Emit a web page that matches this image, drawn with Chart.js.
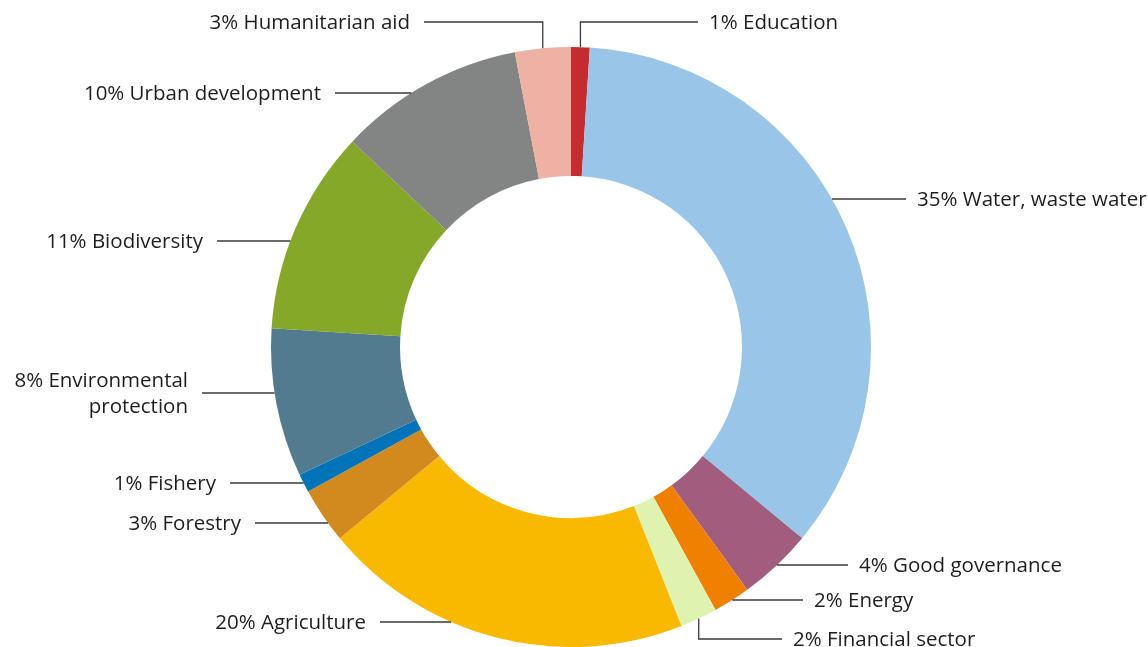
<!DOCTYPE html>
<html>
<head>
<meta charset="utf-8">
<script src="https://cdn.jsdelivr.net/npm/chart.js@4/dist/chart.umd.min.js"></script>
<style>
  html, body { margin: 0; padding: 0; background: #fff; }
  #wrap { width: 1148px; height: 647px; position: relative; }
</style>
</head>
<body>
<div id="wrap"><canvas id="sectors"></canvas></div>
<script>
// shares in percent, clockwise from 12 o'clock
let labels = [
    'Education',
    'Water, waste water',
    'Good governance',
    'Energy',
    'Financial sector',
    'Agriculture',
    'Forestry',
    'Fishery',
    ['Environmental', 'protection'],
    'Biodiversity',
    'Urban development',
    'Humanitarian aid'
];
let values = [1, 35, 4, 2, 2, 20, 3, 1, 8, 11, 10, 3];
let colors = [
    '#c52c2f', '#99c6e8', '#a15d7e', '#f08000', '#dff3b0', '#f9b900',
    '#d2891e', '#0073b9', '#537b8f', '#85a828', '#838584', '#eeb2a4'
];

// label placement: y of leader line, x where line ends, elbow = vertical first
let labelLayout = [
    { y: 22, endX: 698, elbow: true },
    { y: 199, endX: 906 },
    { y: 565, endX: 848 },
    { y: 600, endX: 803 },
    { y: 639, endX: 782, elbow: true },
    { y: 622, endX: 380 },
    { y: 523, endX: 255 },
    { y: 483, endX: 230 },
    { y: 393, endX: 202 },
    { y: 241, endX: 217 },
    { y: 93, endX: 335 },
    { y: 22, endX: 424, elbow: true }
];

const leaderLabels = {
    id: 'leaderLabels',
    afterDatasetsDraw(chart) {
        const c = chart.ctx;
        const meta = chart.getDatasetMeta(0);
        c.save();
        c.font = '20.5px "Open Sans"';
        c.textBaseline = 'middle';
        meta.data.forEach((arc, i) => {
            const p = arc.getProps(['x', 'y', 'startAngle', 'endAngle', 'outerRadius'], true);
            const lay = labelLayout[i];
            const right = lay.endX > p.x;
            c.strokeStyle = '#3a3a3a';
            c.lineWidth = 1.3;
            c.beginPath();
            if (lay.elbow) {
                const mid = (p.startAngle + p.endAngle) / 2;
                const sx = p.x + Math.cos(mid) * p.outerRadius;
                const sy = p.y + Math.sin(mid) * p.outerRadius;
                c.moveTo(sx, sy);
                c.lineTo(sx, lay.y);
                c.lineTo(lay.endX, lay.y);
            } else {
                const dy = lay.y - p.y;
                const dx = Math.sqrt(Math.max(p.outerRadius * p.outerRadius - dy * dy, 0));
                c.moveTo(p.x + (right ? dx : -dx), lay.y);
                c.lineTo(lay.endX, lay.y);
            }
            c.stroke();

            let lines = Array.isArray(labels[i]) ? labels[i].slice() : [labels[i]];
            lines[0] = values[i] + '% ' + lines[0];
            c.fillStyle = '#1e1e1e';
            c.textAlign = right ? 'left' : 'right';
            const tx = right ? lay.endX + 11 : lay.endX - 14;
            const lh = 26;
            lines.forEach((t, k) => {
                c.fillText(t, tx, lay.y + 1 + (k - (lines.length - 1) / 2) * lh);
            });
        });
        c.restore();
    }
};

const ctx = document.getElementById('sectors');
new Chart(ctx.getContext('2d'), {
    type: 'doughnut',
    data: {
        labels: labels,
        datasets: [{
            data: values,
            backgroundColor: colors,
            borderWidth: 0
        }]
    },
    options: {
        responsive: true,
        maintainAspectRatio: false,
        animation: false,
        cutout: '57%',
        layout: { padding: { top: 47, bottom: 0, left: 0, right: 6 } },
        plugins: {
            legend: { display: false },
            tooltip: { enabled: false }
        }
    },
    plugins: [leaderLabels]
});
</script>
</body>
</html>
